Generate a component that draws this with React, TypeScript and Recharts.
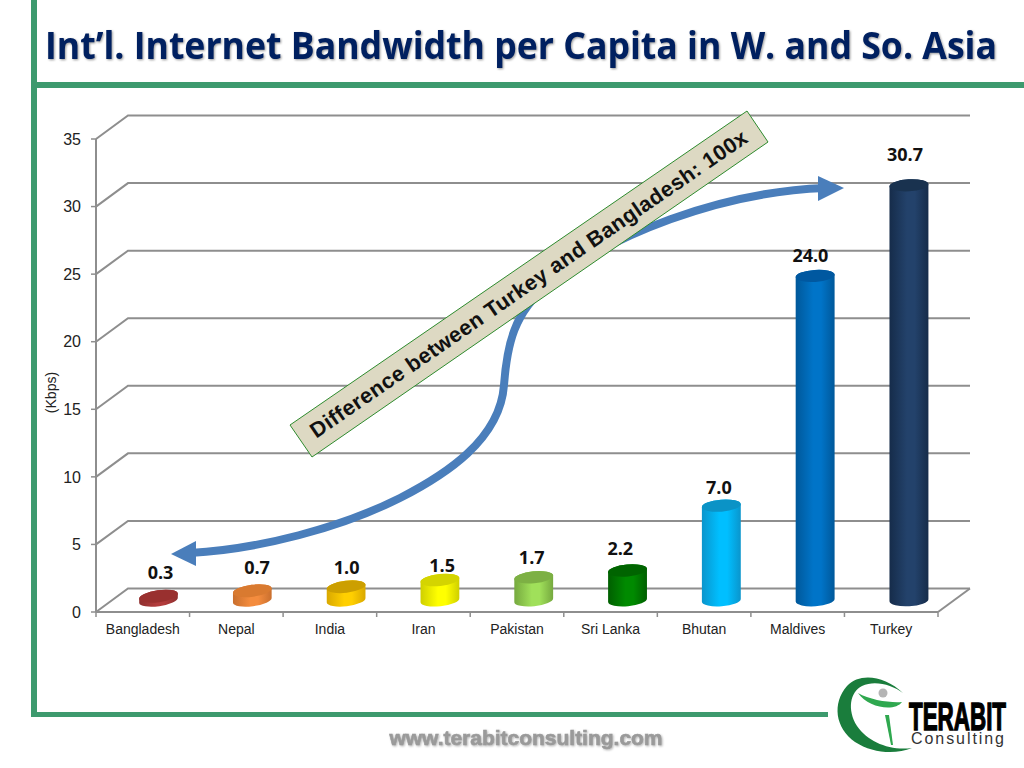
import React from "react";
import { BarChart, Bar, XAxis, YAxis, CartesianGrid, LabelList } from "recharts";

const countries = ["Bangladesh", "Nepal", "India", "Iran", "Pakistan", "Sri Lanka", "Bhutan", "Maldives", "Turkey"];
const bandwidth = [0.3, 0.7, 1.0, 1.5, 1.7, 2.2, 7.0, 24.0, 30.7];
const yTicks = [0, 5, 10, 15, 20, 25, 30, 35];

const sideColors = ["#b23c3c", "#f48c3e", "#ffcf00", "#ffff00", "#a0e05a", "#008a00", "#00bfff", "#0074c8", "#23426b"];
const edgeColors = ["#8e2f2f", "#c96f2e", "#d9a800", "#cfcf00", "#76a93f", "#005f00", "#0a95cc", "#00589a", "#162c4a"];
const topColors = ["#99302f", "#d97a30", "#cc9f00", "#d4d400", "#7db044", "#006400", "#0b93c6", "#0058a0", "#19324f"];
// hand placed data labels in the original slide
const labelNudge = [[2, -23], [5, -23], [1, -19], [3, -14], [-1, -19], [-6, -22], [-1, -18], [-3, -20], [-2, -30]];

const chartData = countries.map((name, i) => ({ name, value: bandwidth[i] }));

const W = 1024;
const H = 768;
const xAxisHeight = 30;
const margin = { top: 139, right: 86, bottom: 126, left: 46 };
// fake 3D depth of the plot
const depthX = 32;
const depthY = 23.5;
const gridColor = "#8e8e8e";
const green = "#3d9a6e";

const GridLine = (props: any) => {
  const { x1, y1, x2, y2 } = props;
  const isFloor = y1 > H - margin.bottom - xAxisHeight - 2;
  return (
    <g key={`grid-${y1}`}>
      <polyline
        points={`${x1},${y1} ${x1 + depthX},${y1 - depthY} ${x2 + depthX},${y2 - depthY}`}
        fill="none"
        stroke={gridColor}
        strokeWidth={2}
      />
      {isFloor && <line x1={x2} y1={y2} x2={x2 + depthX} y2={y2 - depthY} stroke={gridColor} strokeWidth={2} />}
    </g>
  );
};

const Cylinder = (props: any) => {
  const { x, y, width, height, index } = props;
  const rx = width / 2;
  const ry = 6;
  const tilt = 8 - index * 0.6;
  const rad = (tilt * Math.PI) / 180;
  const cx = x + rx + depthX / 2 + index * 0.25;
  const top = y - depthY / 2;
  const base = y + height - depthY / 2;
  const dx = rx * Math.cos(rad);
  const dy = rx * Math.sin(rad);
  const side =
    `M${cx - dx} ${top + dy} L${cx - dx} ${base + dy} ` +
    `A${rx} ${ry} ${-tilt} 0 0 ${cx + dx} ${base - dy} L${cx + dx} ${top - dy} ` +
    `A${rx} ${ry} ${-tilt} 0 0 ${cx - dx} ${top + dy} Z`;
  return (
    <g>
      <path d={side} fill={`url(#cyl-${index})`} />
      <ellipse cx={cx} cy={top} rx={rx} ry={ry} fill={topColors[index]} transform={`rotate(${-tilt} ${cx} ${top})`} />
    </g>
  );
};

const ValueLabel = (props: any) => {
  const { x, y, width, value, index } = props;
  const [nx, ny] = labelNudge[index];
  return (
    <text
      x={x + width / 2 + depthX / 2 + nx}
      y={y - depthY / 2 + ny + 6}
      textAnchor="middle"
      fontFamily="Open Sans, sans-serif"
      fontWeight={700}
      fontSize={18}
      fill="#111"
    >
      {Number(value).toFixed(1)}
    </text>
  );
};

const CountryTick = (props: any) => {
  const { x, y, payload, index } = props;
  const half = payload.offset ?? 46.8;
  return (
    <g>
      <line x1={x - half} y1={y} x2={x - half} y2={y + 5} stroke={gridColor} strokeWidth={1.5} />
      {index === countries.length - 1 && (
        <line x1={x + half} y1={y} x2={x + half} y2={y + 5} stroke={gridColor} strokeWidth={1.5} />
      )}
      <text x={x} y={y + 22} textAnchor="middle" fontFamily="Liberation Sans" fontSize={14} fill="#222">
        {payload.value}
      </text>
    </g>
  );
};

const Decorations = () => (
  <svg width={W} height={H} style={{ position: "absolute", left: 0, top: 0, pointerEvents: "none" }}>
    {/* curved arrow */}
    <path
      d="M190 553 C260 549 340 528 400 498 C445 475 500 440 504 385 C507 345 514 312 548 285 C610 235 720 192 825 188"
      fill="none"
      stroke="#4a7ebb"
      strokeWidth={8}
    />
    <polygon points="171,554 196,541 196,566" fill="#4a7ebb" />
    <polygon points="818,176 844,188 818,201" fill="#4a7ebb" />

    {/* callout */}
    <polygon points="290,425 747,111 768,142 312,457" fill="#ddd9c3" stroke="#2e8b2e" strokeWidth={1} />
    <text
      x={529}
      y={291}
      textAnchor="middle"
      transform="rotate(-34.5 529 284)"
      fontFamily="Liberation Sans"
      fontWeight={700}
      fontSize={21.5}
      letterSpacing={0.45}
      fill="#111"
    >
      Difference between Turkey and Bangladesh: 100x
    </text>

    {/* title */}
    <text
      transform="translate(45 59) scale(1 1.1)"
      textLength={952}
      lengthAdjust="spacingAndGlyphs"
      fontFamily="Open Sans, sans-serif"
      fontWeight={700}
      fontSize={34}
      fill="#002060"
      style={{ filter: "drop-shadow(1px 1px 1px rgba(0,0,0,0.4))" }}
    >
      Int’l. Internet Bandwidth per Capita in W. and So. Asia
    </text>

    {/* footer */}
    <text
      x={526}
      y={745}
      textAnchor="middle"
      textLength={273}
      lengthAdjust="spacingAndGlyphs"
      fontFamily="Liberation Sans"
      fontWeight={700}
      fontSize={21}
      fill="#9a9a9a"
      stroke="#9a9a9a"
      strokeWidth={0.6}
      style={{ filter: "blur(0.6px) drop-shadow(1px 1px 1px rgba(0,0,0,0.3))" }}
    >
      www.terabitconsulting.com
    </text>

    {/* logo */}
    <path
      d="M903 693 C885 676 860 672 847 686 C832 703 835 728 855 742 C872 753 895 755 912 748 C890 751 868 742 857 726 C847 710 850 692 862 686 C875 680 892 685 903 693 Z"
      fill="#1a7d3c"
    />
    <path d="M858 693 C870 700 890 703 902 702 C895 712 868 708 858 693 Z" fill="#2fa84f" />
    <circle cx={883} cy={693} r={4.5} fill="#b5b5b5" />
    <polygon points="885,715 889,715 893,745 891,745" fill="#2fa84f" />
    <text
      transform="translate(909 730) scale(0.83 1.45)"
      fontFamily="Liberation Sans"
      fontWeight={700}
      fontSize={27}
      fill="#000"
      stroke="#000"
      strokeWidth={1}
    >
      TERABIT
    </text>
    <text x={911} y={744} textLength={93} fontFamily="Liberation Sans" fontSize={16} fill="#333">
      Consulting
    </text>
  </svg>
);

export default function App() {
  return (
    <div style={{ position: "absolute", left: 0, top: 0, width: W, height: H, background: "#fff", overflow: "hidden" }}>
      {/* slide frame */}
      <div style={{ position: "absolute", left: 31, top: 0, width: 6, height: 717, background: green }} />
      <div style={{ position: "absolute", left: 31, top: 82, width: 993, height: 6, background: green }} />
      <div style={{ position: "absolute", left: 31, top: 712, width: 797, height: 5, background: green }} />

      <div style={{ position: "absolute", left: 0, top: 0 }}>
        <BarChart width={W} height={H} data={chartData} margin={margin} barSize={39}>
          <defs>
            {sideColors.map((c, i) => (
              <linearGradient key={c} id={`cyl-${i}`} x1="0" y1="0" x2="1" y2="0">
                <stop offset="0%" stopColor={edgeColors[i]} />
                <stop offset="45%" stopColor={c} />
                <stop offset="65%" stopColor={c} />
                <stop offset="100%" stopColor={edgeColors[i]} />
              </linearGradient>
            ))}
          </defs>
          <CartesianGrid vertical={false} horizontal={GridLine} />
          <XAxis
            dataKey="name"
            interval={0}
            tickLine={false}
            tickSize={0}
            tickMargin={0}
            height={xAxisHeight}
            axisLine={{ stroke: gridColor, strokeWidth: 2 }}
            tick={CountryTick}
          />
          <YAxis
            domain={[0, 35]}
            ticks={yTicks}
            width={50}
            tickSize={5}
            tickMargin={10}
            axisLine={{ stroke: gridColor, strokeWidth: 2 }}
            tickLine={{ stroke: gridColor, strokeWidth: 1.5 }}
            tick={{ fontFamily: "Liberation Sans", fontSize: 16, fill: "#222" }}
            label={{
              value: "(Kbps)",
              angle: -90,
              position: "insideLeft",
              dx: 0,
              dy: 17,
              style: { fontFamily: "Liberation Sans", fontSize: 14, fill: "#222", textAnchor: "middle" },
            }}
          />
          <Bar dataKey="value" isAnimationActive={false} shape={Cylinder}>
            <LabelList dataKey="value" content={ValueLabel} />
          </Bar>
        </BarChart>
      </div>

      <Decorations />
    </div>
  );
}
